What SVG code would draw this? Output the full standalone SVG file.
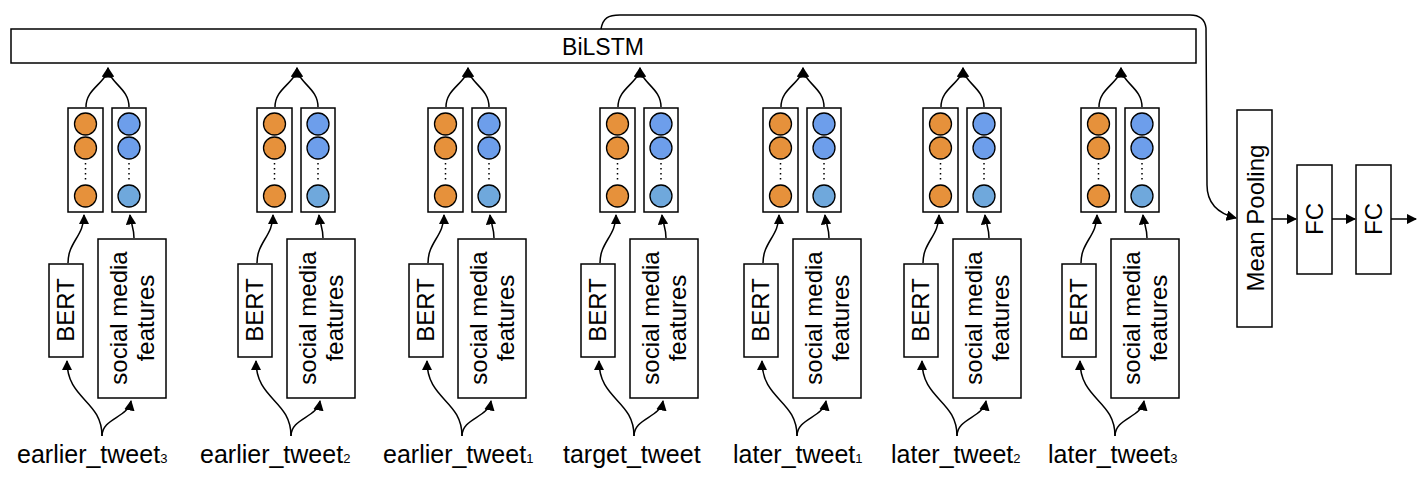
<svg xmlns="http://www.w3.org/2000/svg" width="1421" height="488" viewBox="0 0 1421 488">
<style>
.b{fill:#fff;stroke:#000;stroke-width:1.5}
.c{fill:none;stroke:#000;stroke-width:1.5}
.o{fill:#e6913b;stroke:#000;stroke-width:1.3}
.u{fill:#6d9eeb;stroke:#000;stroke-width:1.3}
.u2{fill:#6fa8dc;stroke:#000;stroke-width:1.3}
text{font-family:"Liberation Sans",Arial,sans-serif;fill:#000}
.t{font-size:25px}
.r{font-size:24px}
.s{font-size:13px}
.d{stroke:#000;stroke-width:1.5;stroke-dasharray:1.5 3.5}
</style>
<defs>
<marker id="a" viewBox="0 0 10 10" refX="9" refY="5" markerWidth="7" markerHeight="7" orient="auto"><path d="M0,0L10,5L0,10z" fill="#000"/></marker>
<g id="mod">
<rect class="b" x="68" y="108" width="35" height="104"/>
<rect class="b" x="112" y="108" width="34" height="104"/>
<circle class="o" cx="85.5" cy="124" r="11"/><circle class="o" cx="85.5" cy="148" r="11"/><circle class="o" cx="85.5" cy="196" r="11"/>
<circle class="u" cx="129" cy="124" r="11"/><circle class="u" cx="129" cy="148" r="11"/><circle class="u2" cx="129" cy="196" r="11"/>
<line class="d" x1="85.5" y1="163" x2="85.5" y2="182"/><line class="d" x1="129" y1="163" x2="129" y2="182"/>
<rect class="b" x="49" y="264" width="34" height="93"/>
<rect class="b" x="98" y="239" width="68" height="159"/>
<text class="r" transform="translate(74,310) rotate(-90)" text-anchor="middle">BERT</text>
<text class="r" transform="translate(127,318) rotate(-90)" text-anchor="middle">social media</text>
<text class="r" transform="translate(154,318) rotate(-90)" text-anchor="middle">features</text>
</g>
<g id="con">
<path class="c" d="M86,107C86,88 106,84 108,68" marker-end="url(#a)"/>
<path class="c" d="M129,107C129,88 110,84 108,68" marker-end="url(#a)"/>
<path class="c" d="M68,263C68,242 84,236 84,215" marker-end="url(#a)"/>
<path class="c" d="M134,238C134,228 131,224 130,215" marker-end="url(#a)"/>
<path class="c" d="M102,436C102,400 67,400 67,361" marker-end="url(#a)"/>
<path class="c" d="M102,436C102,418 128,418 131,401" marker-end="url(#a)"/>
</g>
</defs>
<g id="bilstm"><rect class="b" x="11" y="29" width="1185" height="34"/><text class="t" x="603" y="55" text-anchor="middle" style="font-size:23px">BiLSTM</text></g>
<g id="m1"><use href="#mod"/></g>
<g id="m2" transform="translate(189,0)"><use href="#mod"/></g>
<g id="m3" transform="translate(360,0)"><use href="#mod"/></g>
<g id="m4" transform="translate(532,0)"><use href="#mod"/></g>
<g id="m5" transform="translate(695,0)"><use href="#mod"/></g>
<g id="m6" transform="translate(855,0)"><use href="#mod"/></g>
<g id="m7" transform="translate(1013,0)"><use href="#mod"/></g>
<g id="connectors">
<use href="#con"/>
<use href="#con" transform="translate(189,0)"/>
<use href="#con" transform="translate(360,0)"/>
<use href="#con" transform="translate(532,0)"/>
<use href="#con" transform="translate(695,0)"/>
<use href="#con" transform="translate(855,0)"/>
<use href="#con" transform="translate(1013,0)"/>
<path class="c" d="M601,29C603,18 608,15 620,15L1190,15C1200,15 1205,20 1206,28L1207,185C1207,205 1220,214 1236,218" marker-end="url(#a)"/>
<line class="c" x1="1272" y1="219" x2="1296" y2="219" marker-end="url(#a)"/>
<line class="c" x1="1332" y1="219" x2="1355" y2="219" marker-end="url(#a)"/>
<line class="c" x1="1391" y1="219" x2="1416" y2="219" marker-end="url(#a)"/>
</g>
<g id="meanpool"><rect class="b" x="1237" y="110" width="35" height="217"/><text class="r" transform="translate(1264,218) rotate(-90)" text-anchor="middle">Mean Pooling</text></g>
<g id="fc1"><rect class="b" x="1297" y="165" width="35" height="109"/><text class="r" transform="translate(1323,219) rotate(-90)" text-anchor="middle">FC</text></g>
<g id="fc2"><rect class="b" x="1356" y="165" width="35" height="109"/><text class="r" transform="translate(1382,219) rotate(-90)" text-anchor="middle">FC</text></g>
<g id="labels" class="t">
<text class="t" x="17" y="463">earlier_tweet<tspan class="s">3</tspan></text>
<text class="t" x="200" y="463">earlier_tweet<tspan class="s">2</tspan></text>
<text class="t" x="383" y="463">earlier_tweet<tspan class="s">1</tspan></text>
<text class="t" x="563" y="463">target_tweet</text>
<text class="t" x="733" y="463">later_tweet<tspan class="s">1</tspan></text>
<text class="t" x="891" y="463">later_tweet<tspan class="s">2</tspan></text>
<text class="t" x="1048" y="463">later_tweet<tspan class="s">3</tspan></text>
</g>
</svg>
